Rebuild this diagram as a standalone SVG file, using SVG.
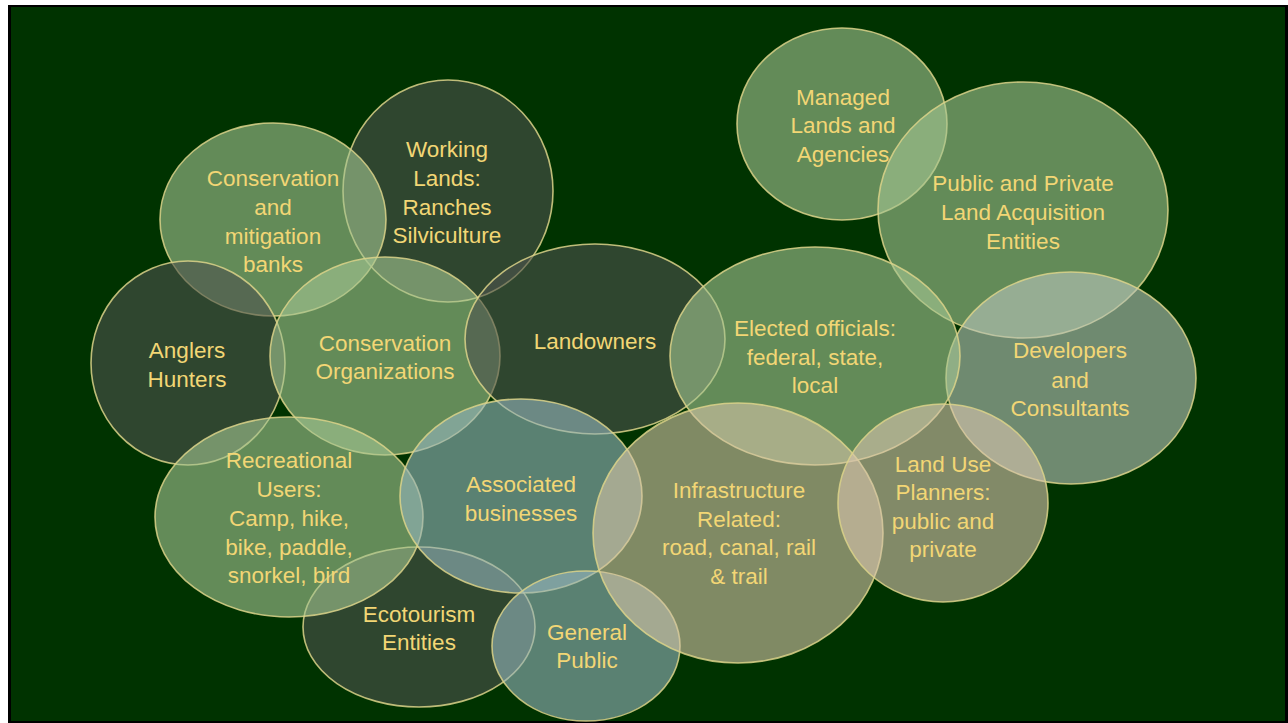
<svg xmlns="http://www.w3.org/2000/svg" width="1288" height="723" viewBox="0 0 1288 723">
<style>
.b{stroke:#dcd38a;stroke-opacity:0.85;stroke-width:1.6}
.lg{fill:#a5c793;fill-opacity:0.6}
.dk{fill:#4e534e;fill-opacity:0.6}
.tl{fill:#96b6be;fill-opacity:0.6}
.kh{fill:#d5c4a7;fill-opacity:0.6}
.lp{fill:#d9c5ad;fill-opacity:0.6}
.dv{fill:#b9c4bb;fill-opacity:0.6}
text{font-family:"Liberation Sans",Arial,sans-serif;font-size:22.5px;fill:#f2d675;text-anchor:middle}
</style>
<rect x="0" y="0" width="1288" height="723" fill="#ffffff"/>
<rect x="8" y="5" width="1280" height="718" fill="#000000"/>
<rect x="11" y="7" width="1274" height="714" fill="#003300"/>
<g id="connectors"></g>
<g id="working-lands"><ellipse class="b dk" cx="448" cy="191" rx="105" ry="111"/></g>
<g id="conservation-banks"><ellipse class="b lg" cx="273" cy="219.5" rx="113" ry="96.5"/></g>
<g id="anglers-hunters"><ellipse class="b dk" cx="188" cy="363" rx="97" ry="102"/></g>
<g id="conservation-organizations"><ellipse class="b lg" cx="385" cy="356" rx="115" ry="99"/></g>
<g id="landowners"><ellipse class="b dk" cx="595" cy="339" rx="130" ry="95"/></g>
<g id="ecotourism"><ellipse class="b dk" cx="419" cy="627" rx="116" ry="80"/></g>
<g id="recreational-users"><ellipse class="b lg" cx="289" cy="517" rx="134" ry="100"/></g>
<g id="associated-businesses"><ellipse class="b tl" cx="521" cy="496" rx="121" ry="97"/></g>
<g id="general-public"><ellipse class="b tl" cx="586" cy="646" rx="94" ry="75"/></g>
<g id="managed-lands"><ellipse class="b lg" cx="842" cy="124" rx="105" ry="96"/></g>
<g id="public-private"><ellipse class="b lg" cx="1023" cy="210" rx="145" ry="128"/></g>
<g id="developers"><ellipse class="b dv" cx="1071" cy="378" rx="125" ry="106"/></g>
<g id="elected-officials"><ellipse class="b lg" cx="815" cy="356" rx="145" ry="109"/></g>
<g id="infrastructure"><ellipse class="b kh" cx="738" cy="533" rx="145" ry="130"/></g>
<g id="land-use-planners"><ellipse class="b lp" cx="943" cy="503" rx="105" ry="99"/></g>
<g id="labels">
<text x="273" y="186">Conservation</text>
<text x="273" y="215">and</text>
<text x="273" y="244">mitigation</text>
<text x="273" y="272">banks</text>
<text x="447" y="157">Working</text>
<text x="447" y="186">Lands:</text>
<text x="447" y="215">Ranches</text>
<text x="447" y="243">Silviculture</text>
<text x="187" y="358">Anglers</text>
<text x="187" y="387">Hunters</text>
<text x="385" y="351">Conservation</text>
<text x="385" y="379">Organizations</text>
<text x="595" y="349">Landowners</text>
<text x="521" y="492">Associated</text>
<text x="521" y="521">businesses</text>
<text x="739" y="498">Infrastructure</text>
<text x="739" y="527">Related:</text>
<text x="739" y="555">road, canal, rail</text>
<text x="739" y="584">&amp; trail</text>
<text x="587" y="640">General</text>
<text x="587" y="668">Public</text>
<text x="289" y="468">Recreational</text>
<text x="289" y="497">Users:</text>
<text x="289" y="526">Camp, hike,</text>
<text x="289" y="555">bike, paddle,</text>
<text x="289" y="583">snorkel, bird</text>
<text x="419" y="622">Ecotourism</text>
<text x="419" y="650">Entities</text>
<text x="843" y="105">Managed</text>
<text x="843" y="133">Lands and</text>
<text x="843" y="162">Agencies</text>
<text x="1023" y="191">Public and Private</text>
<text x="1023" y="220">Land Acquisition</text>
<text x="1023" y="249">Entities</text>
<text x="815" y="336">Elected officials:</text>
<text x="815" y="365">federal, state,</text>
<text x="815" y="393">local</text>
<text x="1070" y="358">Developers</text>
<text x="1070" y="388">and</text>
<text x="1070" y="416">Consultants</text>
<text x="943" y="472">Land Use</text>
<text x="943" y="500">Planners:</text>
<text x="943" y="529">public and</text>
<text x="943" y="557">private</text>
</g>
</svg>
